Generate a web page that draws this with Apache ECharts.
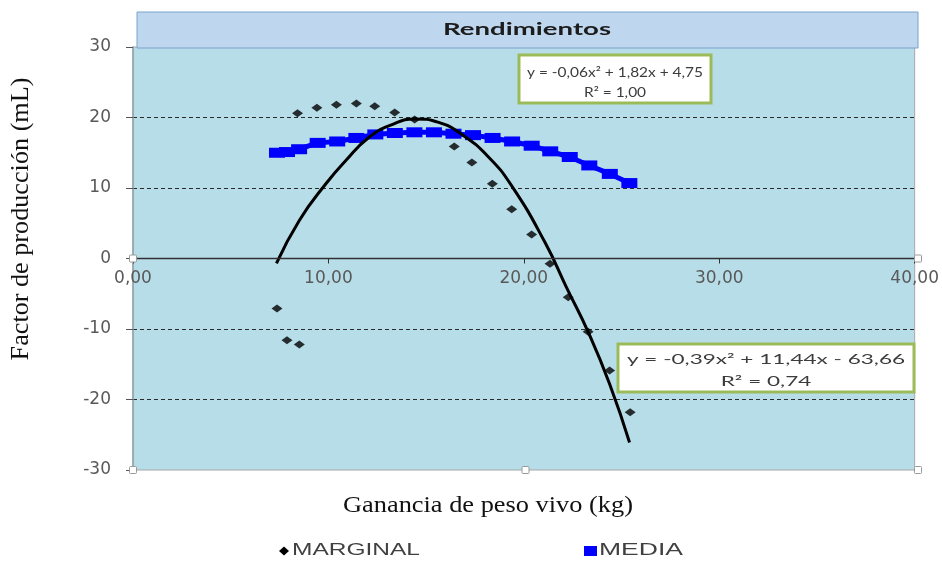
<!DOCTYPE html>
<html><head><meta charset="utf-8">
<script src="https://cdn.jsdelivr.net/npm/echarts@6/dist/echarts.min.js"></script>
<style>html,body{margin:0;padding:0;background:#fff}#c{width:942px;height:562px}</style>
</head><body><div id="c"></div>
<script>
// ---------- data ----------
const chartTitle = 'Rendimientos';
const xAxisName = 'Ganancia de peso vivo (kg)';
const yAxisName = 'Factor de producción (mL)';
const seriesNames = ['MARGINAL', 'MEDIA'];
const xMin = 0, xMax = 40, xStep = 10;
const yMin = -30, yMax = 30, yStep = 10;

const marginalX = [7.37, 7.88, 8.51, 8.42, 9.41, 10.41, 11.43, 12.37, 13.39, 14.41, 16.44, 17.34, 18.39, 19.38, 20.40, 21.34, 22.27, 23.29, 24.39, 25.44];
const marginalY = [-7.1, -11.6, -12.2, 20.6, 21.4, 21.8, 22.0, 21.6, 20.7, 19.7, 15.9, 13.6, 10.6, 7.0, 3.4, -0.75, -5.5, -10.4, -15.9, -21.8];

const mediaX = [7.37, 7.88, 8.5, 9.45, 10.45, 11.43, 12.4, 13.4, 14.4, 15.4, 16.4, 17.4, 18.4, 19.4, 20.4, 21.35, 22.35, 23.35, 24.4, 25.4];
const mediaY = [15.0, 15.1, 15.5, 16.4, 16.6, 17.1, 17.6, 17.8, 17.9, 17.9, 17.7, 17.5, 17.1, 16.6, 16.0, 15.2, 14.4, 13.2, 12.0, 10.7];

// polynomial trend line of MARGINAL
const trendX = [7.34, 8.51, 9.87, 10.89, 12.08, 13.26, 14.41, 15.64, 16.83, 18.19, 19.38, 21.08, 22.2, 23.29, 24.39, 25.41];
const trendY = [-0.7, 5.4, 10.6, 13.9, 17.2, 19.0, 19.8, 19.3, 17.6, 14.4, 10.3, 2.3, -4.2, -10.4, -17.8, -26.1];

const eqMedia = ['y = -0,06x² + 1,82x + 4,75', 'R² = 1,00'];
const eqMarginal = ['y = -0,39x² + 11,44x - 63,66', 'R² = 0,74'];

// ---------- layout ----------
const G = { left: 133, right: 918, top: 47, bottom: 470 };
// x axis crosses the y axis at 0: shift it up from the grid bottom
const xAxisOffset = -(0 - yMin) / (yMax - yMin) * (G.bottom - G.top);
const zeroY = G.bottom + xAxisOffset;

const ctx = document.createElement('canvas').getContext('2d');
function textW(str, font) { ctx.font = font; return ctx.measureText(str).width; }
function txt(str, font, x, y, fill, opts) {
  return Object.assign({
    type: 'text', x: x, y: y, z: 100,
    style: { text: str, font: font, fill: fill, align: 'center', verticalAlign: 'middle', textAlign: 'center', textVerticalAlign: 'middle' }
  }, opts || {});
}
function fitCenter(str, font, cx, cy, width, fill) {
  return txt(str, font, cx, cy, fill, { scaleX: width / textW(str, font) });
}
function fitLeft(str, font, lx, cy, width, fill) {
  const e = txt(str, font, lx, cy, fill, { scaleX: width / textW(str, font) });
  e.style.align = 'left'; e.style.textAlign = 'left';
  return e;
}
function eqBox(lines, x, y, w, h, textW1, l1y, l2y) {
  const font = '14px Lato';
  const s = textW1 / textW(lines[0], font);
  const cx = x + w / 2;
  return [
    { type: 'rect', z: 99, shape: { x: x, y: y, width: w, height: h }, style: { fill: '#ffffff', stroke: '#9bbb59', lineWidth: 3 } },
    txt(lines[0], font, cx, l1y, '#3c3c3c', { scaleX: s }),
    txt(lines[1], font, cx, l2y, '#3c3c3c', { scaleX: s })
  ];
}
function handle(x, y) {
  return { type: 'rect', z: 101, shape: { x: x - 3.5, y: y - 3.5, width: 7, height: 7, r: 1 }, style: { fill: '#ffffff', stroke: '#9a9a9a', lineWidth: 1 } };
}

const yNameFontBase = '22px "Liberation Serif"';
const yNameSize = 22 * 283 / textW(yAxisName, yNameFontBase);

const graphics = [
  { type: 'rect', z: 98, shape: { x: 137, y: 12, width: 781, height: 36 }, style: { fill: '#bed6ee', stroke: '#7ba3cf', lineWidth: 1 } },
  fitCenter(chartTitle, 'bold 17px Lato', 527, 30, 168, '#1c1c1c'),
  ...eqBox(eqMedia, 519, 55, 192, 48, 176, 72, 92),
  ...eqBox(eqMarginal, 618, 344, 296, 48, 278, 359, 381),
  txt(yAxisName, yNameSize.toFixed(2) + 'px "Liberation Serif"', 21, 219, '#111111', { rotation: Math.PI / 2 }),
  fitCenter(xAxisName, '23px "Liberation Serif"', 488, 506, 290, '#111111'),
  { type: 'polygon', z: 100, shape: { points: [[284, 546.5], [289, 551], [284, 555.5], [279, 551]] }, style: { fill: '#000000' } },
  fitLeft(seriesNames[0], '16px "Liberation Sans"', 292, 551, 128, '#404040'),
  { type: 'rect', z: 100, shape: { x: 584, y: 546, width: 13, height: 10 }, style: { fill: '#0000ff' } },
  fitLeft(seriesNames[1], '16px "Liberation Sans"', 599, 551, 84, '#404040'),
  handle(G.left, zeroY), handle(G.left, G.bottom), handle((G.left + G.right) / 2, G.bottom), handle(G.right, G.bottom), handle(G.right, zeroY)
];

const zip = (a, b) => a.map((v, i) => [v, b[i]]);
const axisFont = { fontFamily: 'DejaVu Sans', fontSize: 17, color: '#595959' };

const option = {
  animation: false,
  backgroundColor: '#ffffff',
  grid: { left: G.left, right: 942 - G.right, top: G.top, bottom: 562 - G.bottom, show: true, backgroundColor: '#b7dde8', borderColor: '#a6a6a6', borderWidth: 1 },
  xAxis: {
    type: 'value', min: xMin, max: xMax, interval: xStep, position: 'bottom', offset: xAxisOffset, z: 10,
    axisLine: { show: true, onZero: false, lineStyle: { color: '#303030', width: 1.3 } },
    axisTick: { show: true, length: 5, lineStyle: { color: '#303030' } },
    axisLabel: Object.assign({ margin: 12, formatter: v => v.toFixed(2).replace('.', ',') }, axisFont),
    splitLine: { show: false }
  },
  yAxis: {
    type: 'value', min: yMin, max: yMax, interval: yStep,
    axisLine: { show: true, lineStyle: { color: '#8fa3ad', width: 1.5 } },
    axisTick: { show: true, length: 7, lineStyle: { color: '#555555' } },
    axisLabel: Object.assign({ margin: 22 }, axisFont),
    splitLine: { show: true, showMinLine: false, showMaxLine: false, lineStyle: { color: '#2a2a2a', type: [4, 3], width: 1 } }
  },
  series: [
    { name: seriesNames[0], type: 'scatter', data: zip(marginalX, marginalY), symbol: 'diamond', symbolSize: [11, 8], itemStyle: { color: '#000000' }, z: 3 },
    { name: seriesNames[1], type: 'line', data: zip(mediaX, mediaY), symbol: 'rect', symbolSize: [16, 10], showAllSymbol: true,
      itemStyle: { color: '#0000ff' }, lineStyle: { color: '#0000ff', width: 5 }, z: 4 },
    { name: 'trend', type: 'line', data: zip(trendX, trendY), smooth: 0.5, symbol: 'none', lineStyle: { color: '#000000', width: 3 }, z: 5 }
  ],
  graphic: graphics
};
const chart = echarts.init(document.getElementById('c'), null, { renderer: 'canvas' });
chart.setOption(option);
</script></body></html>
